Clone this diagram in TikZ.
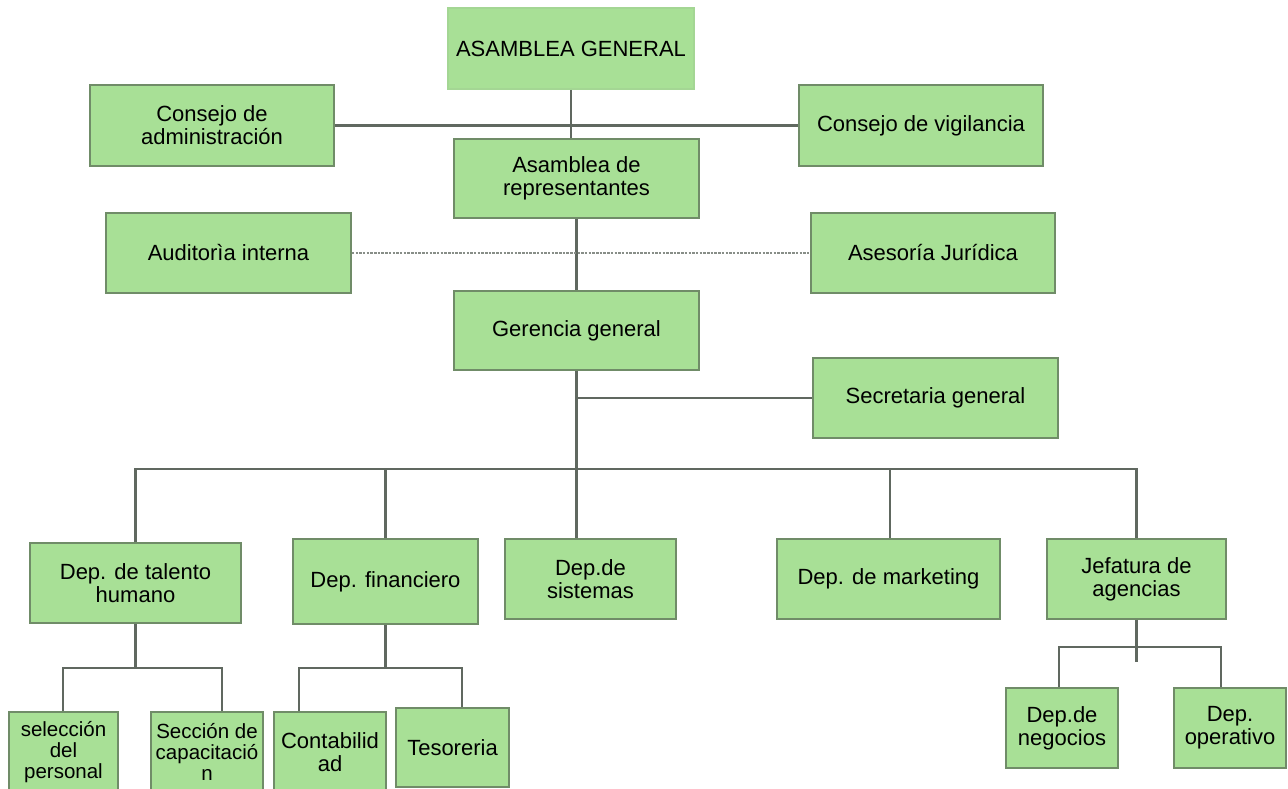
\documentclass[tikz,border=0pt]{standalone}
\usepackage{fontspec}
\setmainfont{Liberation Sans}
\definecolor{boxfill}{RGB}{168,224,150}
\definecolor{boxline}{RGB}{112,140,104}
\definecolor{conn}{RGB}{96,104,96}
\tikzset{
  box/.style={draw=boxline, fill=boxfill, line width=1.6pt, inner sep=0pt, align=center,
    font=\fontsize{22}{23}\selectfont},
  smallbox/.style={box, font=\fontsize{20.5}{21}\selectfont},
  link/.style={draw=conn, line width=2.1pt},
  dotlink/.style={draw=conn!75, line width=2pt, dash pattern=on 2.5pt off 1.2pt}
}
\begin{document}
\begin{tikzpicture}[x=1pt,y=-1pt]
\useasboundingbox (0,0) rectangle (1288,789);
% top levels
\node[box, draw=boxfill!90!gray, minimum width=246pt, minimum height=81pt] (ag) at (571,48.5) {ASAMBLEA GENERAL};
\node[box, minimum width=244pt, minimum height=81pt] (ca) at (212,125.5) {Consejo de\\administración};
\node[box, minimum width=244pt, minimum height=81pt] (cv) at (921,125.5) {Consejo de vigilancia};
\node[box, minimum width=245pt, minimum height=79pt] (ar) at (576.5,178.5) {Asamblea de\\representantes};
\node[box, minimum width=245pt, minimum height=80pt] (ai) at (228.5,253) {Auditorìa interna};
\node[box, minimum width=244pt, minimum height=80pt] (aj) at (933,253) {Asesoría Jurídica};
\node[box, minimum width=245pt, minimum height=79pt] (gg) at (576.5,330.5) {Gerencia general};
\node[box, minimum width=245pt, minimum height=80pt] (sg) at (935.5,398) {Secretaria general};
% departments
\node[box, minimum width=211pt, minimum height=80pt] (th) at (135.5,583) {Dep. de talento\\humano};
\node[box, minimum width=185pt, minimum height=85pt] (fi) at (385.5,581.5) {Dep. financiero};
\node[box, minimum width=171pt, minimum height=80pt] (si) at (590.5,579) {Dep.de\\sistemas};
\node[box, minimum width=223pt, minimum height=80pt] (mk) at (888.5,579) {Dep. de marketing};
\node[box, minimum width=179pt, minimum height=80pt] (ja) at (1136.5,579) {Jefatura de\\agencias};
% sections
\node[smallbox, minimum width=109pt, minimum height=80pt] (se) at (63.5,752) {selección\\del\\personal};
\node[smallbox, minimum width=112pt, minimum height=80pt] (sc) at (207,752) {Sección de\\capacitació\\n};
\node[box, minimum width=112pt, minimum height=80pt] (co) at (330,752) {Contabilid\\ad};
\node[box, minimum width=113pt, minimum height=79pt] (te) at (452.5,747.5) {Tesoreria};
\node[box, minimum width=112pt, minimum height=80pt] (dn) at (1062,728) {Dep.de\\negocios};
\node[box, minimum width=112pt, minimum height=80pt] (do) at (1230,728) {Dep.\\operativo};
% connectors top
\draw[link] (ag.south) -- (ag.south |- ar.north);
\draw[link] (ca.east) -- (cv.west);
\draw[link] (ar.south) -- (gg.north);
\draw[dotlink] (ai.east) -- (aj.west);
\draw[link] (gg.south) -- (gg.south |- si.north);
\coordinate (sgj) at (gg.south |- sg.west);
\draw[link] (sgj) -- (sg.west);
% main bus
\coordinate (bus) at (0,469);
\draw[link] (th.north) -- (th.north |- bus) -- (ja.north |- bus) -- (ja.north);
\draw[link] (fi.north) -- (fi.north |- bus);
\coordinate (mkj) at (890,469);
\draw[link] (mkj) -- (mkj |- mk.north);
% talento humano
\coordinate (tb) at (0,668);
\coordinate (sej) at (63,668);
\coordinate (scj) at (222,668);
\draw[link] (th.south) -- (th.south |- tb);
\draw[link] (sej |- se.north) -- (sej) -- (scj) -- (scj |- sc.north);
% financiero
\coordinate (coj) at (299,668);
\coordinate (tej) at (462,668);
\draw[link] (fi.south) -- (fi.south |- tb);
\draw[link] (coj |- co.north) -- (coj) -- (tej) -- (tej |- te.north);
% jefatura
\coordinate (jend) at (1136.5,662);
\coordinate (dnj) at (1059,647);
\coordinate (doj) at (1221,647);
\draw[link] (ja.south) -- (jend);
\draw[link] (dnj |- dn.north) -- (dnj) -- (doj) -- (doj |- do.north);
\end{tikzpicture}
\end{document}
